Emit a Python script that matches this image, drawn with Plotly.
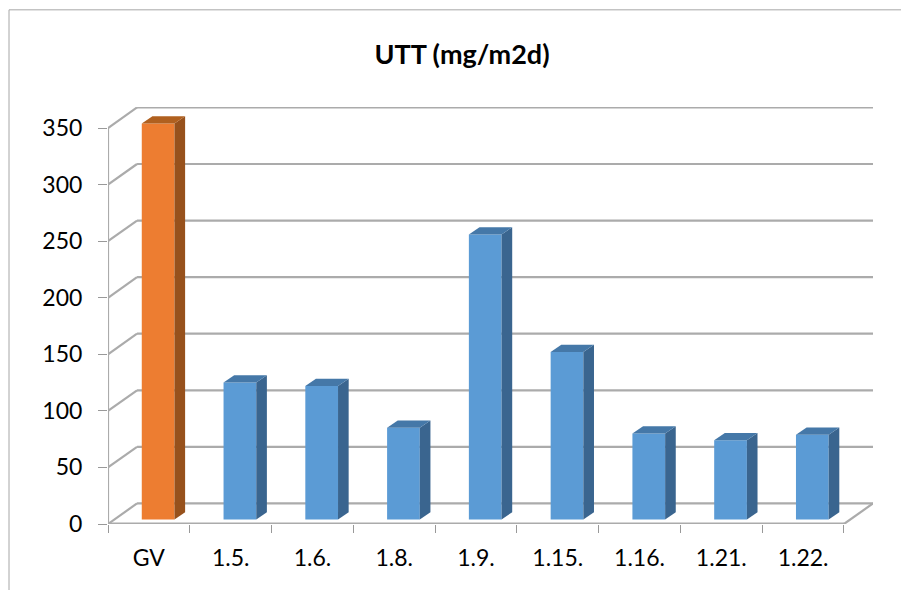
import plotly.graph_objects as go

categories = ["GV", "1.5.", "1.6.", "1.8.", "1.9.", "1.15.", "1.16.", "1.21.", "1.22."]
values = [350, 121, 118, 81, 252, 148, 76, 70, 75]
y_ticks = [0, 50, 100, 150, 200, 250, 300, 350]
front_colors = ["#ED7D31"] + ["#5B9BD5"] * 8
side_colors = ["#97511C"] + ["#3A658F"] * 8
top_colors = ["#B0601F"] + ["#4578A8"] * 8

# 3D look, all in data units
WALL_DX, WALL_DY = 0.355, 18.2      # depth of the floor
BAR_DX, BAR_DY = 0.113, 4.0         # front face of the bars inside the floor
SIDE_DX, SIDE_DY = 0.13, 6.4        # bar depth
BAR_W = 0.40
N = len(categories)
GREY = "#ABABAB"

fig = go.Figure()
centres = [i + 0.5 for i in range(N)]

fig.add_trace(go.Bar(
    x=[c + BAR_DX for c in centres], y=values, base=BAR_DY, width=BAR_W,
    marker=dict(color=front_colors, line=dict(width=0)), hoverinfo="skip", showlegend=False,
))

for c, v, sc, tc in zip(centres, values, side_colors, top_colors):
    l = c + BAR_DX - BAR_W / 2
    r = c + BAR_DX + BAR_W / 2
    b = BAR_DY
    t = BAR_DY + v
    fig.add_trace(go.Scatter(
        x=[r, r + SIDE_DX, r + SIDE_DX, r, r], y=[b, b + SIDE_DY, t + SIDE_DY, t, b],
        fill="toself", fillcolor=sc, mode="none", hoverinfo="skip", showlegend=False))
    fig.add_trace(go.Scatter(
        x=[l, r, r + SIDE_DX, l + SIDE_DX, l], y=[t, t, t + SIDE_DY, t + SIDE_DY, t],
        fill="toself", fillcolor=tc, mode="none", hoverinfo="skip", showlegend=False))

shapes = []
def seg(x0, y0, x1, y1, w=2.2, color=GREY):
    shapes.append(dict(type="line", xref="x", yref="y", x0=x0, y0=y0, x1=x1, y1=y1,
                       layer="below", line=dict(color=color, width=w)))

for v in y_ticks:
    seg(0, v, WALL_DX, v + WALL_DY)
    seg(WALL_DX, v + WALL_DY, N + WALL_DX, v + WALL_DY)
seg(0, 0, 0, y_ticks[-1])
seg(0, 0, N, 0, w=3)
seg(N, 0, N + WALL_DX, WALL_DY)

# outer chart frame
shapes.append(dict(type="line", xref="paper", yref="paper", x0=-0.1294, x1=1.046, y0=1.233, y1=1.233,
                   line=dict(color="#A6A6A6", width=1)))
shapes.append(dict(type="line", xref="paper", yref="paper", x0=-0.1294, x1=-0.1294, y0=1.233, y1=-0.2,
                   line=dict(color="#A6A6A6", width=1)))

# the page adds 8 px of body margin, so the figure is 8 px smaller in each direction
fig.update_layout(
    width=901, height=582,
    margin=dict(l=100, r=36, t=99, b=65.8, autoexpand=False),
    paper_bgcolor="white", plot_bgcolor="white",
    font=dict(family="Lato", color="#000000"),
    showlegend=False, shapes=shapes,
    title=dict(text="<b>UTT (mg/m2d)</b>", x=454 / 901, xanchor="center", y=1 - 47 / 582,
               yanchor="middle", font=dict(family="Lato", size=27, color="#000000")),
    xaxis=dict(range=[0, N + WALL_DX], tickmode="array", tickvals=centres, ticktext=categories,
               ticks="", showgrid=False, zeroline=False, showline=False,
               tickfont=dict(size=23), ticklabelstandoff=18,
               minor=dict(tickmode="array", tickvals=list(range(N + 1)), ticks="outside",
                          ticklen=8, tickwidth=1, tickcolor="#999999", showgrid=False)),
    yaxis=dict(range=[0, 368.6], tickmode="array", tickvals=y_ticks, ticks="outside",
               ticklen=9, tickwidth=1, tickcolor="#999999", showgrid=False, zeroline=False,
               showline=False, tickfont=dict(size=23), ticklabelstandoff=11),
)

fig.write_html("out.html")
